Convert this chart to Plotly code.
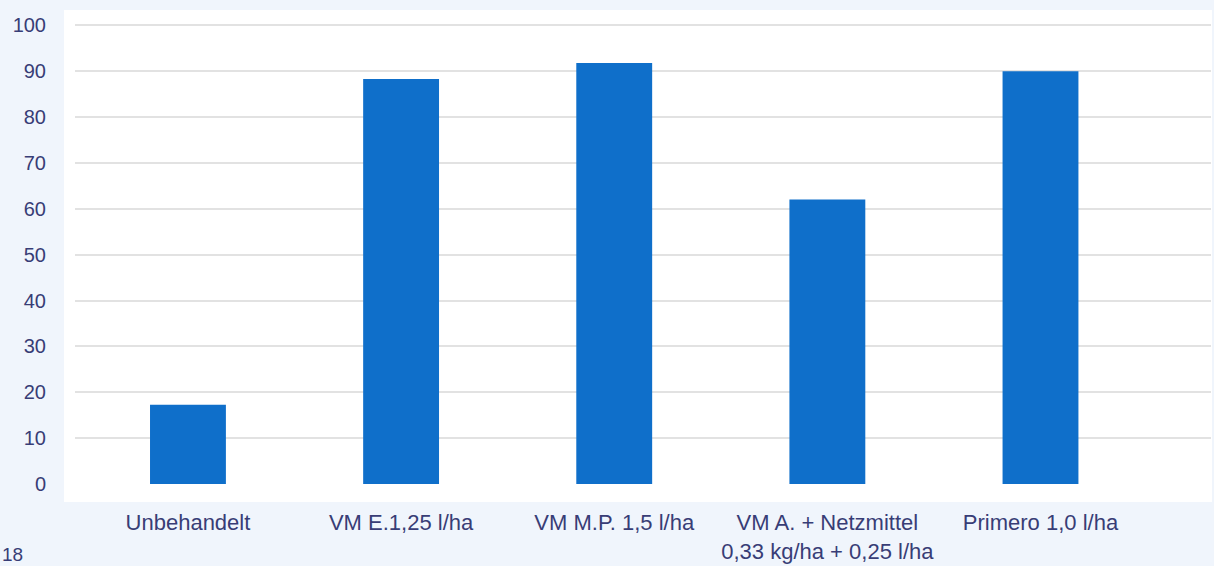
import plotly.graph_objects as go

categories = ["Unbehandelt", "VM E.1,25 l/ha", "VM M.P. 1,5 l/ha",
              "VM A. + Netzmittel<br>0,33 kg/ha + 0,25 l/ha", "Primero 1,0 l/ha"]
values = [17.3, 88.3, 91.8, 62.0, 90.0]
y_ticks = [0, 10, 20, 30, 40, 50, 60, 70, 80, 90, 100]
page_number = "18"

W, H = 1214, 566
ml, mr, mt, mb = 75, 3, 23, 82
pw, ph = W - ml - mr, H - mt - mb

text_color = "#383d76"
bg = "#f0f5fc"

fig = go.Figure(go.Bar(x=categories, y=values, marker_color="#0f6fca",
                       marker_line_width=0, width=0.356))

# white panel behind the plot area
fig.add_shape(type="rect", xref="paper", yref="paper",
              x0=(64 - ml) / pw, x1=(1212 - ml) / pw,
              y0=-(502 - (H - mb)) / ph, y1=1 + (mt - 10) / ph,
              fillcolor="white", line_width=0, layer="below")

fig.add_annotation(text=page_number, xref="paper", yref="paper",
                   x=-ml / pw, y=-(554 - (H - mb)) / ph, xanchor="left", yanchor="middle",
                   showarrow=False, font=dict(size=19, color=text_color))

fig.update_layout(
    width=W, height=H,
    margin=dict(l=ml, r=mr, t=mt, b=mb, autoexpand=False),
    paper_bgcolor=bg, plot_bgcolor="rgba(0,0,0,0)",
    font=dict(family="Liberation Sans, Arial, sans-serif", size=20, color=text_color),
    showlegend=False,
    xaxis=dict(range=[-0.53, 4.80], showgrid=False, zeroline=False, showline=False,
               automargin=False,
               ticks="outside", ticklen=19, tickcolor="rgba(0,0,0,0)",
               tickfont=dict(size=22, color=text_color)),
    yaxis=dict(range=[0, 100.5], tickvals=y_ticks, showgrid=True, gridcolor="#e2e2e2",
               gridwidth=1.5, zeroline=False, showline=False, automargin=False,
               ticks="outside", ticklen=24, tickcolor="rgba(0,0,0,0)",
               tickfont=dict(size=20, color=text_color)),
)

fig.write_html("out.html", config={"displayModeBar": False},
               post_script="document.body.style.margin='0';document.body.style.overflow='hidden';")
